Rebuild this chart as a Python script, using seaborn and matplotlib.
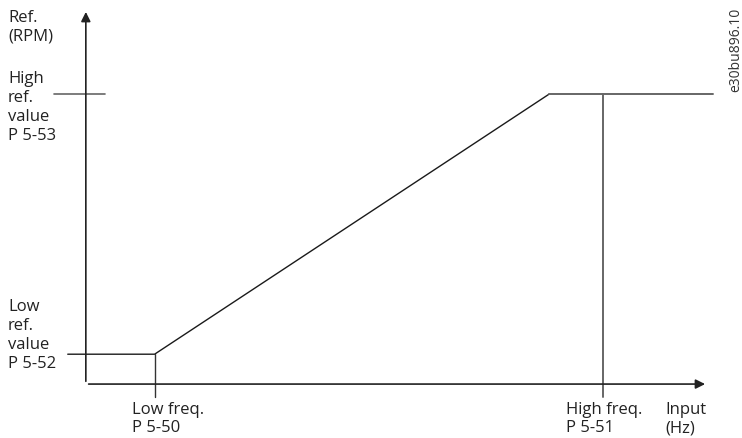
import matplotlib.pyplot as plt
import seaborn as sns
import pandas as pd

sns.set_theme(style='white')
plt.rcParams['font.family'] = ['Open Sans', 'DejaVu Sans']

# reference curve (input in % of high freq, ref in % of high ref value)
curve_input = [-3.5, 13.3, 89.6, 121.3]
curve_ref   = [10.3, 10.3, 100.0, 100.0]
low_freq    = 13.3
high_freq   = 100.0
low_ref     = 10.3
high_ref    = 100.0

df = pd.DataFrame({'input': curve_input, 'ref': curve_ref})

fig = plt.figure(figsize=(7.42, 4.39), dpi=100)
ax = fig.add_axes([0, 0, 1, 1])
ax.set_xlim(-16.6, 126.9)
ax.set_ylim(-18.6, 132.8)
ax.axis('off')

# axes with arrow heads
ax.annotate('', xy=(120.3, 0), xytext=(0, 0),
            arrowprops=dict(arrowstyle='-|>', color='#222222', lw=1.2, mutation_scale=14))
ax.annotate('', xy=(0, 129.3), xytext=(0, 0),
            arrowprops=dict(arrowstyle='-|>', color='#222222', lw=1.2, mutation_scale=14))

# curve: low part + diagonal black, top part grey
sns.lineplot(data=df.iloc[:3], x='input', y='ref', ax=ax, color='#1a1a1a', lw=1.0, sort=False)
sns.lineplot(data=df.iloc[2:], x='input', y='ref', ax=ax, color='#666666', lw=1.4, sort=False)

# tick marks
ax.plot([-6.2, 3.7], [high_ref, high_ref], color='#666666', lw=1.2)
ax.plot([low_freq, low_freq], [low_ref, -4.5], color='#333333', lw=1.0)
ax.plot([high_freq, high_freq], [high_ref, -4.5], color='#666666', lw=1.4)

fs = 12
ls = 1.25
col = '#222222'
fig.text(8 / 742, 1 - 10 / 439, 'Ref.\n(RPM)', fontsize=fs, va='top', ha='left', linespacing=1.2, color=col)
fig.text(8 / 742, 1 - 71 / 439, 'High\nref.\nvalue\nP 5-53', fontsize=fs, va='top', ha='left', linespacing=ls, color=col)
fig.text(8 / 742, 1 - 299 / 439, 'Low\nref.\nvalue\nP 5-52', fontsize=fs, va='top', ha='left', linespacing=ls, color=col)
fig.text(132 / 742, 1 - 402 / 439, 'Low freq.\nP 5-50', fontsize=fs, va='top', ha='left', linespacing=1.2, color=col)
fig.text(566 / 742, 1 - 402 / 439, 'High freq.\nP 5-51', fontsize=fs, va='top', ha='left', linespacing=1.2, color=col)
fig.text(665 / 742, 1 - 402 / 439, 'Input\n(Hz)', fontsize=fs, va='top', ha='left', linespacing=1.2, color=col)
fig.text(736 / 742, 1 - 8 / 439, 'e30bu896.10', fontsize=10, va='top', ha='center', rotation=90, color='#333333')

fig.savefig('out.png', dpi=100)
